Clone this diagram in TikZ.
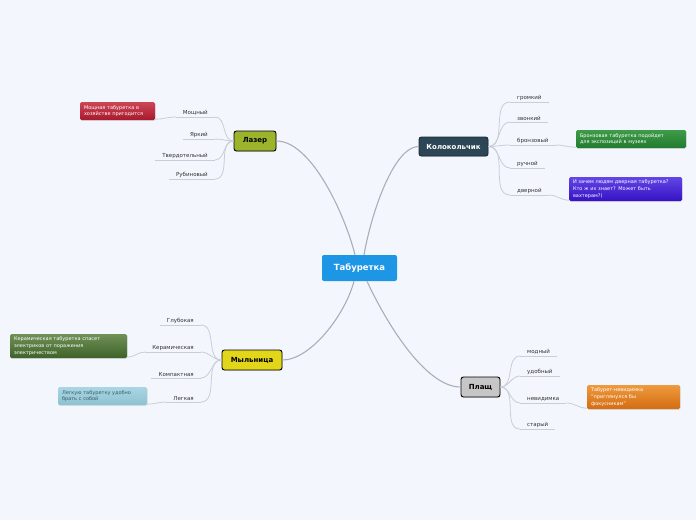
\documentclass[tikz,border=0pt]{standalone}
\usepackage{fontspec}
\setmainfont{DejaVu Sans}
\usetikzlibrary{shadows}
\definecolor{bg}{HTML}{F3F6FD}
\definecolor{centralc}{HTML}{1E96E6}
\definecolor{laserc}{HTML}{9CB42C}
\definecolor{bellc}{HTML}{2C4656}
\definecolor{soapc}{HTML}{E2D61A}
\definecolor{cloakc}{HTML}{C6C6C6}
\definecolor{mainlink}{HTML}{A9AEB8}
\definecolor{sublink}{HTML}{C9CDD6}
\definecolor{subtext}{HTML}{333333}
\definecolor{redtop}{HTML}{CC4656}
\definecolor{redbot}{HTML}{A8192D}
\definecolor{grntop}{HTML}{3E9C49}
\definecolor{grnbot}{HTML}{227A2E}
\definecolor{purtop}{HTML}{6246E6}
\definecolor{purbot}{HTML}{3512C4}
\definecolor{olvtop}{HTML}{6F9158}
\definecolor{olvbot}{HTML}{3F6229}
\definecolor{blutop}{HTML}{A9D6E2}
\definecolor{blubot}{HTML}{8DC2D1}
\definecolor{blutext}{HTML}{3B5A66}
\definecolor{orgtop}{HTML}{EE9A3E}
\definecolor{orgbot}{HTML}{D46C12}
\begin{document}
\begin{tikzpicture}[x=1pt,y=-1pt,
  central/.style={fill=centralc, rounded corners=2pt, minimum width=75pt, minimum height=26pt, inner sep=0pt, text=white, font=\fontsize{8.5}{10}\selectfont\bfseries},
  maintopic/.style={draw=black, line width=0.9pt, rounded corners=2.5pt, minimum height=20pt, inner sep=0pt, font=\fontsize{7}{8}\selectfont\bfseries, drop shadow={opacity=0.25, shadow xshift=0.6pt, shadow yshift=-0.9pt}},
  subl/.style={font=\fontsize{5.5}{6.5}\selectfont, text=subtext, inner xsep=7pt, inner ysep=1.5pt, anchor=south east},
  subr/.style={subl, anchor=south west},
  note/.style={rounded corners=1.5pt, inner xsep=4pt, inner ysep=0pt, align=left, text=white, font=\fontsize{5}{6.7}\selectfont, drop shadow={opacity=0.2, shadow xshift=0.5pt, shadow yshift=-0.8pt}},
  mlink/.style={draw=mainlink, line width=1.1pt},
  slink/.style={draw=sublink, line width=0.8pt},
  uline/.style={draw=sublink, line width=0.8pt}
]
\useasboundingbox[fill=bg] (0,0) rectangle (696,520);

% central and main topics
\node[central] (T) at (359.5,268) {Табуретка};
\node[maintopic, fill=laserc, minimum width=42pt] (L) at (255,141) {Лазер};
\node[maintopic, fill=bellc, draw=bellc!60!black, text=white, minimum width=69pt, minimum height=19pt] (K) at (453.5,146.5) {Колокольчик};
\node[maintopic, fill=soapc, minimum width=60pt] (M) at (252,360) {Мыльница};
\node[maintopic, fill=cloakc, minimum width=39pt] (P) at (480.5,387) {Плащ};

% central links
\draw[mlink] ([xshift=-4.5pt]T.north) .. controls +(-10,-40) and +(35,0) .. (L.east);
\draw[mlink] ([xshift=4.5pt]T.north) .. controls +(8,-45) and +(-24,0) .. (K.west);
\draw[mlink] ([xshift=-5.5pt]T.south) .. controls +(-9,34) and +(28,0) .. (M.east);
\draw[mlink] ([xshift=7.5pt]T.south) .. controls +(18,39) and +(-36,0) .. (P.west);

% Лазер subtopics
\node[subl] (l1) at (215,117) {Мощный};
\node[subl] (l2) at (215,139) {Яркий};
\node[subl] (l3) at (215,160) {Твердотельный};
\node[subl] (l4) at (215,179) {Рубиновый};
% Колокольчик subtopics
\node[subr] (k1) at (510,102) {громкий};
\node[subr] (k2) at (510,122) {звонкий};
\node[subr] (k3) at (510,145) {бронзовый};
\node[subr] (k4) at (510,168) {ручной};
\node[subr] (k5) at (510,195) {дверной};
% Мыльница subtopics
\node[subl] (m1) at (201,325) {Глубокая};
\node[subl] (m2) at (201,352) {Керамическая};
\node[subl] (m3) at (201,378) {Компактная};
\node[subl] (m4) at (201,402) {Легкая};
% Плащ subtopics
\node[subr] (p1) at (520,356) {модный};
\node[subr] (p2) at (520,376) {удобный};
\node[subr] (p3) at (520,403) {невидимка};
\node[subr] (p4) at (520,429) {старый};

\foreach \n in {l1,l2,l3,l4,k1,k2,k3,k4,k5,m1,m2,m3,m4,p1,p2,p3,p4}
  \draw[uline] (\n.south west) -- (\n.south east);

\foreach \n in {l1,l2,l3,l4}
  \draw[slink] (L.west) to[out=180,in=0] (\n.south east);
\foreach \n in {k1,k2,k3,k4,k5}
  \draw[slink] (K.east) to[out=0,in=180] (\n.south west);
\foreach \n in {m1,m2,m3,m4}
  \draw[slink] (M.west) to[out=180,in=0] (\n.south east);
\foreach \n in {p1,p2,p3,p4}
  \draw[slink] (P.east) to[out=0,in=180] (\n.south west);

% notes
\node[note, top color=redtop, bottom color=redbot, text width=67pt, minimum height=18pt] (n1) at (117.5,111) {Мощная табуретка в\\хозяйстве пригодится};
\node[note, top color=grntop, bottom color=grnbot, text width=102pt, minimum height=18pt] (n2) at (631,139) {Бронзовая табуретка подойдет\\для экспозиций в музеях};
\node[note, top color=purtop, bottom color=purbot, text width=105pt, minimum height=24pt] (n3) at (625.5,189) {И зачем людям дверная табуретка?\\Кто ж их знает? Может быть\\вахтерам?)};
\node[note, top color=olvtop, bottom color=olvbot, text width=109pt, minimum height=24pt] (n4) at (68.5,346) {Керамическая табуретка спасет\\электриков от поражения\\электричеством};
\node[note, top color=blutop, bottom color=blubot, text=blutext, text width=81pt, minimum height=18pt] (n5) at (102.5,396) {Легкую табуретку удобно\\брать с собой};
\node[note, top color=orgtop, bottom color=orgbot, text width=85pt, minimum height=24pt] (n6) at (633.5,397) {Табурет-невидимка\\"приглянулся бы\\фокусникам"};

\draw[slink] (l1.south west) to[out=180,in=0] ([yshift=1pt]n1.south east);
\draw[slink] (k3.south east) to[out=0,in=180] ([yshift=1pt]n2.south west);
\draw[slink] (k5.south east) to[out=0,in=180] ([yshift=1pt]n3.south west);
\draw[slink] (m2.south west) to[out=180,in=0] ([yshift=1pt]n4.south east);
\draw[slink] (m4.south west) to[out=180,in=0] ([yshift=1pt]n5.south east);
\draw[slink] (p3.south east) to[out=0,in=180] ([yshift=1pt]n6.south west);
\end{tikzpicture}
\end{document}
